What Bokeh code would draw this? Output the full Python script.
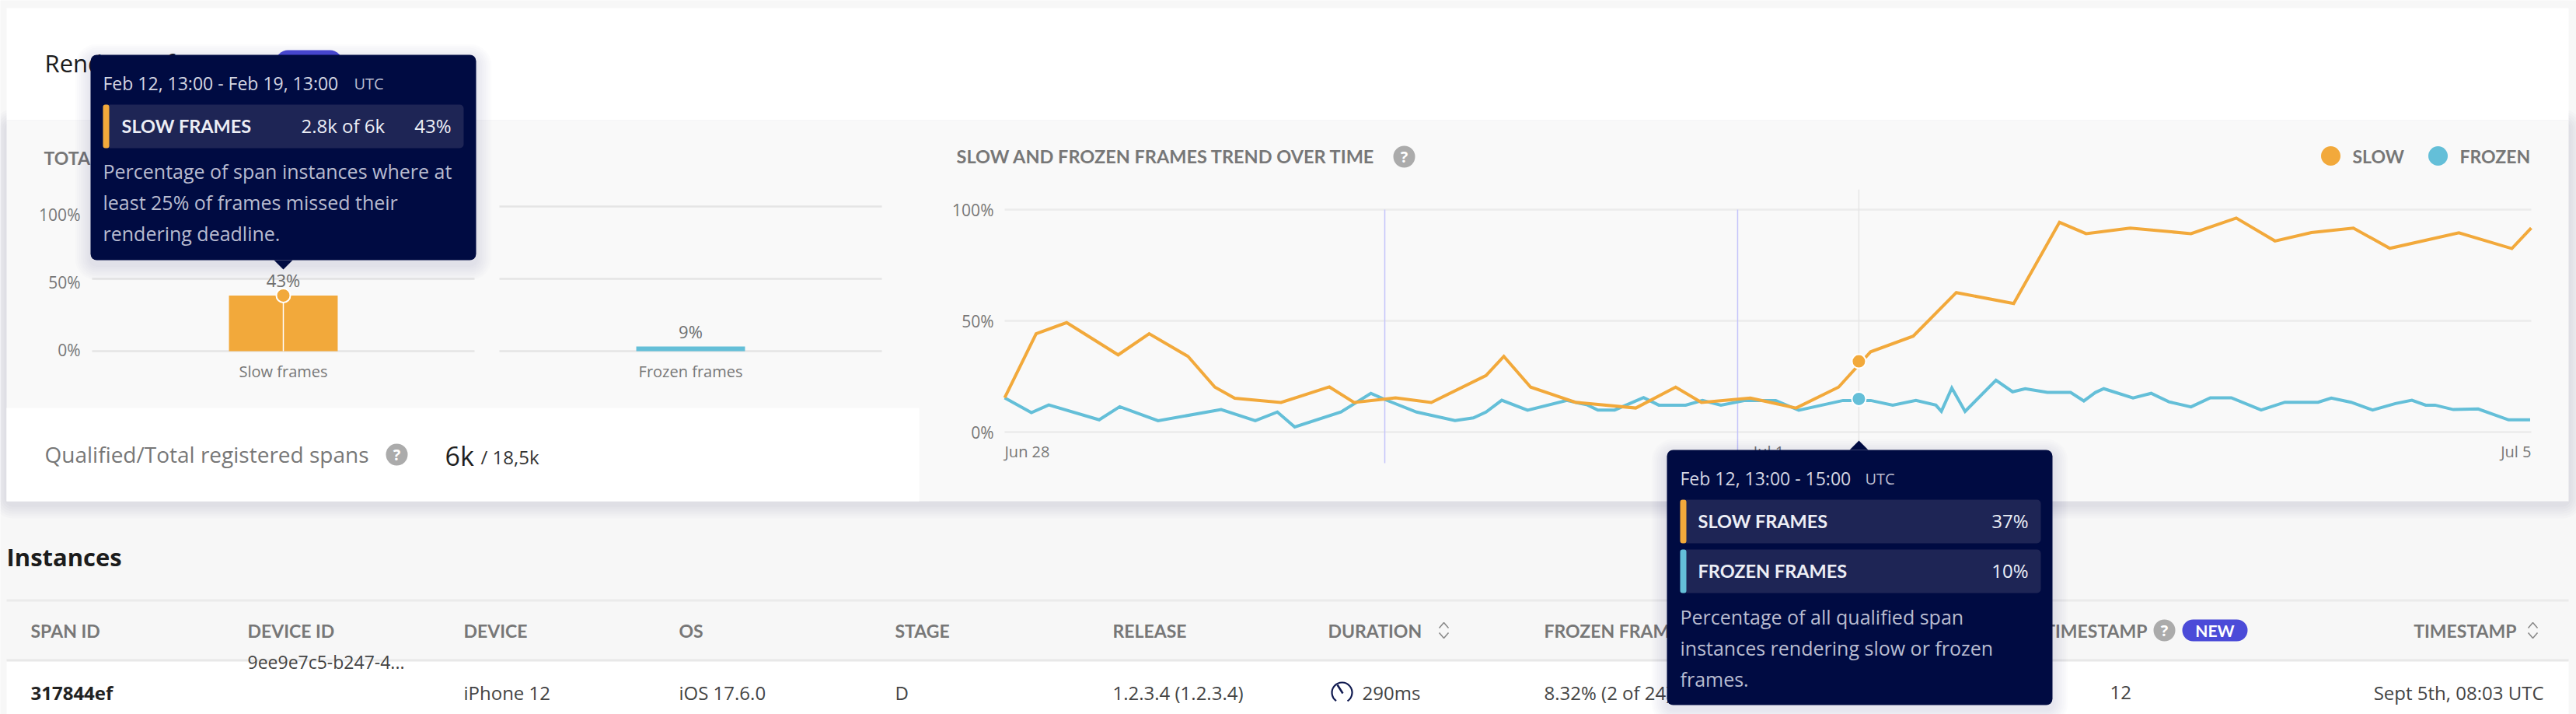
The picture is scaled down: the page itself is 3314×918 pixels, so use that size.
from bokeh.plotting import figure
from bokeh.models import Range1d, LinearAxis, FixedTicker, PrintfTickFormatter
from bokeh.core.properties import value
from bokeh.embed import file_html
from bokeh.resources import INLINE

# ---------- data ----------
slow_hours = [0.0,3.46,6.82,12.49,15.9,20.18,23.13,25.32,30.41,35.73,38.45,43.02,46.95,52.97,54.93,57.88,62.8,69.45,73.84,76.68,82.06,87.09,91.77,95.3,99.98,104.72,111.04,116.08,119.0,123.86,130.55,135.53,139.79,143.8,148.42,152.43,160.03,165.86,167.99]
slow_pct = [15.4,44.2,49.2,34.7,44.2,34.0,20.2,15.2,13.3,20.3,13.3,15.4,13.3,25.4,34.0,20.2,13.4,10.8,20.2,13.3,15.3,10.8,20.2,36.1,43.1,62.7,57.8,94.3,89.2,91.7,89.2,96.2,85.9,89.7,91.7,82.6,89.6,82.5,91.7]
frozen_hours = [0.0,2.94,4.85,10.4,12.66,16.88,23.82,27.58,30.01,31.92,37.01,40.3,41.86,45.33,49.56,51.58,52.97,54.7,57.54,61.87,64.13,65.28,67.13,70.31,71.99,74.94,76.79,78.82,81.48,84.84,87.39,92.26,95.3,97.73,100.28,102.47,103.08,104.23,105.69,109.09,110.92,112.31,114.75,117.3,118.76,120.03,120.95,124.17,126.17,128.12,130.55,132.68,134.99,138.27,140.88,144.53,145.99,148.17,150.54,153.04,154.86,156.38,157.41,159.42,162.15,165.5,167.87]
frozen_pct = [15.4,8.7,12.2,5.5,11.4,5.1,10.1,5.1,9.0,2.3,9.0,17.4,14.6,9.0,5.2,6.4,9.0,14.3,9.8,14.2,12.2,9.9,9.9,15.5,12.1,12.1,14.2,12.1,14.2,14.2,9.8,14.2,14.2,12.1,14.2,12.1,9.3,19.8,9.3,23.3,18.1,19.5,17.8,17.8,14.0,17.8,19.5,15.3,17.4,13.6,11.3,15.4,15.4,9.9,13.4,13.4,15.3,13.4,9.9,12.8,14.3,12.1,12.1,10.1,10.4,5.5,5.5]
guide_hours = [41.83, 80.66]
hover_hour = 94.0
hover_slow = 31.8
hover_frozen = 14.9
bar_slots = [0, 1]
bar_names = ["Slow frames", "Frozen frames"]
bar_heights = [38.5, 3.2]
bar_labels = ["43%", "9%"]
pct_ticks = [0, 50, 100]
time_labels = ["Jun 28", "Jul 1", "Jul 5"]
table_head = ["SPAN ID", "DEVICE ID", "DEVICE", "OS", "STAGE", "RELEASE", "DURATION", "FROZEN FRAMES"]
table_row = ["317844ef", "iPhone 12", "iOS 17.6.0", "D", "1.2.3.4 (1.2.3.4)", "290ms", "8.32% (2 of 24)"]

# ---------- palette ----------
ORANGE, BLUE = "#f2a93b", "#64bfd8"
NAVY, NAVY2 = "#000b42", "#1e2555"
BG, PANEL = "#f7f7f7", "#f9f9f9"
BODY, CAPS = "Open Sans", "Lato"

W, H = 3314, 918
p = figure(width=W, height=H, x_range=Range1d(0, W), y_range=Range1d(H, 0),
           x_axis_type=None, y_axis_type=None, toolbar_location=None, output_backend="svg",
           min_border=0, min_border_left=0, min_border_right=0, min_border_top=0, min_border_bottom=0,
           background_fill_color=BG, border_fill_color=BG, outline_line_color=None)
p.grid.visible = False


def yrange(y0, y100):
    k = (y0 - y100) / 100
    return Range1d((y0 - H) / k, y0 / k)


def xrange_(px0, v0, px1, v1):
    k = (v1 - v0) / (px1 - px0)
    return Range1d(v0 - px0 * k, v0 + (W - px0) * k)


p.extra_y_ranges = {"trend_y": yrange(555, 269), "bar_y": yrange(451, 265), "bar_tick": yrange(449, 275)}
p.extra_x_ranges = {"trend_x": xrange_(1292, 0, 3256, 168), "bar_x": xrange_(364, 0, 888, 1)}


def box(l, r, t, b, color, radius=0, alpha=1.0):
    p.quad(left=[l], right=[r], top=[t], bottom=[b], fill_color=color, fill_alpha=alpha,
           line_color=None, border_radius=int(radius))


def label(x, y, s, size, color, font=BODY, align="left", bold=False, **kw):
    p.text(x=[x], y=[y], text=[s], text_font=value(font), text_font_size=value(f"{size}px"),
           text_color=color, text_align=align, text_baseline="middle",
           text_font_style="bold" if bold else "normal", **kw)


def shadow(l, r, t, b, steps=8, spread=2.5, alpha=0.012, dy=6):
    for i in range(steps, 0, -1):
        s = i * spread
        box(l - s, r + s, t - s + dy, b + s + dy, "#2a2a50", radius=8 + s, alpha=alpha)


def qmark(x, y):
    p.scatter(x=[x], y=[y], size=28, fill_color="#ababab", line_color=None)
    label(x, y, "?", 20, "white", align="center", bold=True)


def badge(l, r, t, b):
    box(l, r, t, b, "#4b4bd8", radius=(b - t) // 2)
    label((l + r) / 2, (t + b) / 2, "NEW", 21, "white", font=CAPS, align="center", bold=True)


def sorter(x, y):
    p.multi_line(xs=[[x - 6, x, x + 6], [x - 6, x, x + 6]], ys=[[y - 3, y - 10, y - 3], [y + 3, y + 10, y + 3]],
                 line_color="#8a8a8a", line_width=1.6)


# ---------- panels ----------
shadow(8, 3304, 154, 644, steps=6, spread=3, alpha=0.018, dy=4)
box(8, 3304, 10, 154, "white")
box(8, 3304, 154, 644, PANEL)
box(8, 1182, 524, 644, "white")

# header
label(57, 80, "Rendering frames", 31, "#1c1c1c")
badge(354, 440, 64, 96)

# totals chart
label(56, 202, "TOTAL SLOW AND FROZEN FRAMES", 23, "#777777", font=CAPS, bold=True)
for x0, x1 in [(118, 610), (642, 1134)]:
    p.segment(x0=[x0] * 3, x1=[x1] * 3, y0=pct_ticks, y1=pct_ticks, y_range_name="bar_y",
              line_color="#e5e5e5", line_width=2.5)
p.vbar(x=bar_slots, width=0.267, bottom=0, top=bar_heights, x_range_name="bar_x", y_range_name="bar_y",
       fill_color=[ORANGE, BLUE], line_color=None)
p.segment(x0=[bar_slots[0]], x1=[bar_slots[0]], y0=[0], y1=[bar_heights[0]], x_range_name="bar_x",
          y_range_name="bar_y", line_color="white", line_width=1.5)
p.scatter(x=[bar_slots[0]], y=[bar_heights[0]], x_range_name="bar_x", y_range_name="bar_y",
          size=18, fill_color=ORANGE, line_color="white", line_width=2)
p.text(x=bar_slots, y=[h + 10.5 for h in bar_heights], text=bar_labels, x_range_name="bar_x",
       y_range_name="bar_y", text_font=value(BODY), text_font_size=value("22px"), text_color="#6f6f6f",
       text_align="center", text_baseline="middle")
p.text(x=bar_slots, y=[-14, -14], text=bar_names, x_range_name="bar_x", y_range_name="bar_y",
       text_font=value(BODY), text_font_size=value("20px"), text_color="#777777",
       text_align="center", text_baseline="middle")

# qualified row
label(57, 583, "Qualified/Total registered spans", 28, "#777777")
qmark(510, 584)
label(572, 585, "6k", 34, "#1f1f1f")
label(618, 587, "/ 18,5k", 24, "#333333")

# trend chart
label(1230, 200, "SLOW AND FROZEN FRAMES TREND OVER TIME", 23.5, "#777777", font=CAPS, bold=True)
qmark(1806, 201)
p.scatter(x=[2998, 3136], y=[200, 200], size=25, fill_color=[ORANGE, BLUE], line_color=None)
label(3026, 200, "SLOW", 23, "#777777", font=CAPS, bold=True)
label(3164, 200, "FROZEN", 23, "#777777", font=CAPS, bold=True)
p.segment(x0=[0] * 3, x1=[168] * 3, y0=pct_ticks, y1=pct_ticks, x_range_name="trend_x", y_range_name="trend_y",
          line_color="#ebebeb", line_width=2.5)
p.segment(x0=guide_hours, x1=guide_hours, y0=[100, 100], y1=[-14, -14], x_range_name="trend_x",
          y_range_name="trend_y", line_color="#c4c4fa", line_width=1.5)
p.segment(x0=[hover_hour], x1=[hover_hour], y0=[109], y1=[-4], x_range_name="trend_x", y_range_name="trend_y",
          line_color="#e6e6e6", line_width=1.5)
p.line(frozen_hours, frozen_pct, x_range_name="trend_x", y_range_name="trend_y", line_color=BLUE,
       line_width=4, line_join="miter")
p.line(slow_hours, slow_pct, x_range_name="trend_x", y_range_name="trend_y", line_color=ORANGE,
       line_width=4, line_join="miter")
p.scatter(x=[hover_hour] * 2, y=[hover_slow, hover_frozen], x_range_name="trend_x", y_range_name="trend_y",
          size=18, fill_color=[ORANGE, BLUE], line_color="white", line_width=2)
label(1292, 580, time_labels[0], 20, "#777777")
label(2275, 580, time_labels[1], 20, "#777777", align="center")
label(3256, 580, time_labels[2], 20, "#777777", align="right")

# real value axes
for rng, loc in [("bar_tick", 109), ("trend_y", 1284)]:
    ax = LinearAxis(y_range_name=rng, fixed_location=loc, ticker=FixedTicker(ticks=pct_ticks),
                    formatter=PrintfTickFormatter(format="%d%%"), axis_line_color=None,
                    major_tick_line_color=None, minor_tick_line_color=None, major_label_standoff=0,
                    major_label_text_font=BODY, major_label_text_font_size="21px",
                    major_label_text_color="#777777")
    p.add_layout(ax, "left")

# instances table
label(8, 715, "Instances", 31, "#1c1c1c", bold=True)
box(8, 3304, 771, 849, BG)
box(8, 3304, 770, 773, "#ebebeb")
box(8, 3304, 849, 918, "white")
box(8, 3304, 847, 850, "#e8e8e8")
for x, s in zip([39, 318, 596, 873, 1151, 1431, 1708, 1986], table_head):
    label(x, 810, s, 23, "#777777", font=CAPS, bold=True)
label(2762, 810, "TIMESTAMP", 23, "#777777", font=CAPS, bold=True, align="right")
qmark(2784, 810)
badge(2807, 2891, 796, 824)
label(3237, 810, "TIMESTAMP", 23, "#777777", font=CAPS, bold=True, align="right")
sorter(1857, 810)
sorter(3258, 810)
label(318, 850, "9ee9e7c5-b247-4...", 23, "#444444")
label(39, 890, table_row[0], 24, "#222222", bold=True)
for x, s in zip([596, 873, 1151, 1431, 1752, 1986], table_row[1:]):
    label(x, 890, s, 24, "#444444")
label(2714, 890, "12", 24, "#444444")
label(3272, 890, "Sept 5th, 08:03 UTC", 24, "#444444", align="right")
p.arc(x=[1726], y=[890], radius=[13], start_angle=-1.0, end_angle=4.1, line_color="#101a50", line_width=2.2)
p.segment(x0=[1727], y0=[891], x1=[1720], y1=[880], line_color="#101a50", line_width=2.5)


# ---------- tooltips ----------
def tooltip(l, r, t, b, notch_x, notch_tip, notch_base):
    shadow(l, r, t, b)
    box(l, r, t, b, NAVY, radius=8)
    p.patch(x=[notch_x - 12, notch_x, notch_x + 12], y=[notch_base, notch_tip, notch_base], fill_color=NAVY,
            line_color=None)


def chip(l, r, t, b, color):
    box(l, r, t, b, NAVY2, radius=5)
    box(l, l + 8, t, b, color, radius=3)


TIP, TIPDIM = "#d4d6e2", "#b9bcd0"
tooltip(116, 612, 70, 334, 364, 346, 334)
label(132, 106, "Feb 12, 13:00 - Feb 19, 13:00", 23, TIP)
label(455, 107, "UTC", 20, TIPDIM)
chip(132, 596, 134, 190, ORANGE)
label(156, 161, "SLOW FRAMES", 23.5, "#eceef5", font=CAPS, bold=True)
label(387, 161, "2.8k of 6k", 24, "#eceef5")
label(580, 161, "43%", 24, "#eceef5", align="right")
for y, s in zip([219, 259, 299], ["Percentage of span instances where at", "least 25% of frames missed their",
                                  "rendering deadline."]):
    label(132, y, s, 25, TIPDIM)

tooltip(2144, 2640, 578, 906, 2391, 566, 578)
label(2161, 614, "Feb 12, 13:00 - 15:00", 23, TIP)
label(2399, 615, "UTC", 20, TIPDIM)
chip(2161, 2625, 642, 698, ORANGE)
chip(2161, 2625, 706, 762, BLUE)
label(2184, 669, "SLOW FRAMES", 23.5, "#eceef5", font=CAPS, bold=True)
label(2184, 733, "FROZEN FRAMES", 23.5, "#eceef5", font=CAPS, bold=True)
label(2609, 669, "37%", 24, "#eceef5", align="right")
label(2609, 733, "10%", 24, "#eceef5", align="right")
for y, s in zip([792, 832, 872], ["Percentage of all qualified span", "instances rendering slow or frozen", "frames."]):
    label(2161, y, s, 25, TIPDIM)

open("out.html", "w").write(file_html(p, INLINE))
